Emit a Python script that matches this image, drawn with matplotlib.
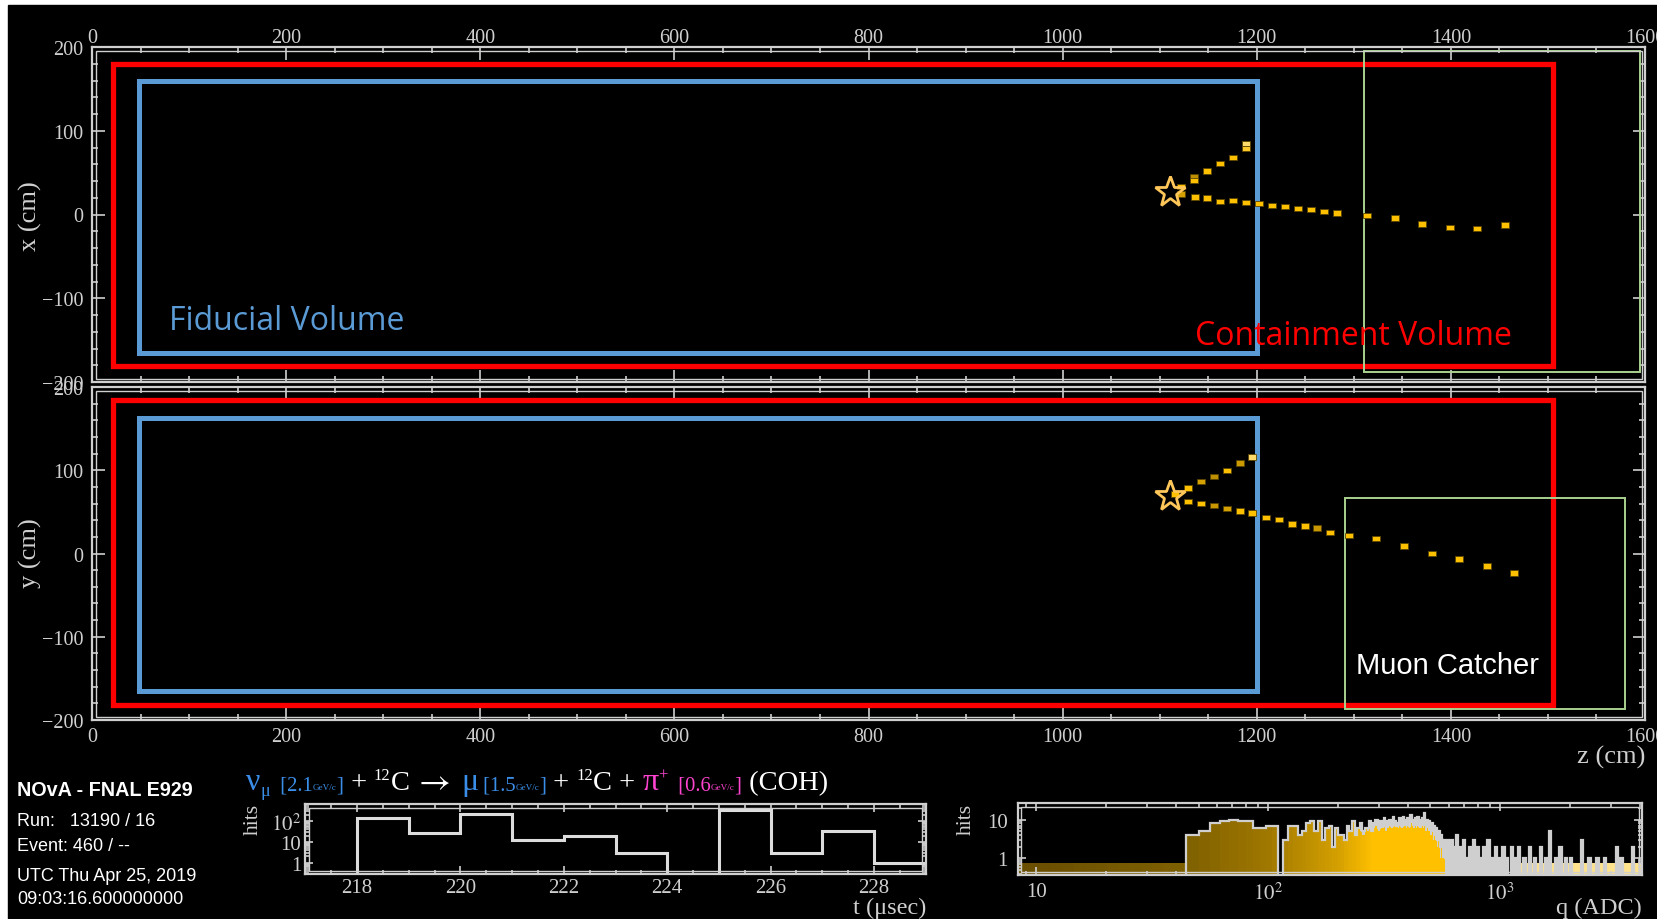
import numpy as np
import matplotlib
matplotlib.use('Agg')
import matplotlib.pyplot as plt
from matplotlib.patches import Rectangle
from matplotlib.colors import LinearSegmentedColormap
from matplotlib.ticker import MultipleLocator, FixedLocator, FixedFormatter, NullFormatter, LogLocator

plt.rcParams['font.family'] = ['Liberation Serif', 'DejaVu Serif']
plt.rcParams['mathtext.fontset'] = 'stix'

# ---- detector volumes (cm) ----
containment_z = (22, 1505)
containment_x = (-181, 180)
containment_y = (-182, 184)
fiducial_z = (48, 1200)
fiducial_x = (-165, 160)
fiducial_y = (-165, 163)
catcher_xz = (1310, 1595, -188, 195)
catcher_yz = (1291, 1579, -187, 67)

# ---- reconstructed vertex ----
vtx_z = 1110.6
vtx_x = 26.5
vtx_y = 69.4

# ---- hits, XZ view ----
xz_pion_z = [1121.7, 1135.7, 1135.7, 1149.1, 1162.5, 1175.6, 1188.9, 1188.9]
xz_pion_x = [33.7, 45.5, 40.5, 51.9, 61.1, 68.3, 85.0, 78.5]
xz_pion_q = [400, 150, 420, 430, 410, 420, 1500, 900]
xz_muon_z = [1121.7, 1136.1, 1149.1, 1162.5, 1175.6, 1188.9, 1202.6, 1216.0, 1229.1, 1242.5,
             1255.9, 1269.3, 1282.7, 1313.3, 1342.5, 1370.6, 1399.1, 1426.9, 1455.5]
xz_muon_x = [24.5, 20.9, 19.7, 15.8, 16.5, 14.1, 12.9, 10.5, 9.3, 6.9,
             6.2, 3.3, 1.8, -1.0, -4.2, -11.3, -15.8, -16.5, -12.5]
xz_muon_q = [200, 420, 420, 420, 420, 420, 420, 420, 420, 420,
             420, 420, 420, 420, 420, 420, 420, 420, 420]

# ---- hits, YZ view ----
yz_pion_z = [1115.8, 1129.5, 1142.9, 1156.0, 1169.4, 1182.8, 1194.8]
yz_pion_y = [71.5, 78.7, 86.2, 92.7, 99.9, 108.7, 115.9]
yz_pion_q = [400, 420, 200, 150, 420, 180, 1300]
yz_muon_z = [1129.5, 1142.9, 1156.0, 1169.4, 1182.8, 1195.2, 1209.3, 1222.6, 1236.0, 1249.4,
             1262.4, 1275.8, 1294.7, 1322.9, 1351.4, 1380.3, 1408.1, 1437.0, 1465.0]
yz_muon_y = [62.2, 59.8, 57.4, 54.3, 51.1, 48.6, 43.5, 41.1, 35.4, 33.0,
             30.6, 25.0, 21.4, 17.8, 9.0, 0.2, -6.6, -15.0, -23.5]
yz_muon_q = [420, 420, 170, 200, 420, 420, 420, 420, 420, 420,
             170, 420, 420, 420, 420, 420, 420, 420, 420]

# ---- timing histogram (1 usec bins) ----
t_edges = [217, 218, 219, 220, 221, 222, 223, 224, 225, 226, 227, 228, 229]
t_hits = [0, 144, 26, 214, 13, 20, 3, 0, 330, 3, 34, 1]

# ---- charge histogram: 6 ADC bins from 44 ADC ----
q_start = 44
q_width = 6
q_hits_all = [4, 5, 8, 9, 10, 9, 9, 6, 6, 7, 7, 0, 3, 7, 7, 4, 5, 8, 9, 5,
              9, 3, 6, 7, 2, 6, 4, 4, 3, 7, 5, 9, 4, 6,
              8, 5, 6, 6, 9, 5, 8, 10, 6, 9, 7, 11, 7, 9, 10, 7, 12, 9, 7, 8,
              11, 7, 12, 10, 8, 11, 7, 13, 10, 8, 11, 9, 12, 7, 10, 11, 9, 15, 8, 10,
              7, 9, 6, 8, 5, 7, 4, 6, 3, 5, 2, 4, 3, 2, 3, 1, 2, 3, 1]
q_hits_slice = [4, 5, 8, 9, 10, 9, 9, 6, 6, 7, 7, 0, 3, 7, 7, 4, 5, 8, 9, 5,
                9, 3, 6, 7, 2, 6, 4, 4, 3, 7, 5, 9, 4, 6,
                5, 4, 6, 5, 6, 5, 6, 7, 5, 6, 6, 7, 5, 6, 7, 6, 8, 7, 7, 6,
                7, 6, 8, 7, 6, 7, 6, 8, 7, 6, 7, 6, 7, 6, 6, 7, 6, 7, 5, 6,
                5, 5, 4, 5, 3, 4, 3, 3, 2, 3, 1, 2, 1, 1, 1, 0, 0, 0, 0]
# isolated high-charge hits
q_spike_adc = [610, 628, 645, 662, 690, 712, 735, 760, 790, 815, 845, 880, 910, 950, 985,
               1020, 1060, 1110, 1150, 1190, 1260, 1330, 1400, 1480, 1560, 1620, 1720,
               1800, 1900, 2000, 2230, 2400, 2600, 2800, 3150, 3300, 3700]
q_spike_hits = [3, 2, 4, 2, 3, 1, 2, 3, 2, 1, 2, 3, 1, 2, 1, 2, 1, 2, 1, 2, 1, 2, 1, 2, 1,
                5, 1, 2, 1, 1, 3, 1, 1, 1, 2, 1, 2]

W, H = 1657, 920
GREY = '#cfcfcf'
BLUE = '#5b9bd5'
NU_BLUE = '#3b8ee8'
PINK = '#ff44d0'

# colour palette used for hit charge (log10 ADC)
stops = [(1.0, '#6b4f00'), (1.65, '#7f6000'), (2.0, '#a07800'), (2.3, '#d4a000'),
         (2.45, '#ffc000'), (2.85, '#ffc000'), (3.1, '#ffd966'), (3.6, '#ffe699')]
adc_cmap = LinearSegmentedColormap.from_list(
    'adc', [((l - 1.0) / 2.6, c) for l, c in stops])


def adc_color(q):
    return adc_cmap((np.log10(np.asarray(q, dtype=float)) - 1.0) / 2.6)


fig = plt.figure(figsize=(W / 100, H / 100), dpi=100, facecolor='white')
fig.add_artist(Rectangle((8 / W, 0), 1, 1 - 6 / H, transform=fig.transFigure,
                         color='black', zorder=-10))


def style_frame(ax, major=9, minor=4.5, size=14.5):
    ax.set_facecolor('black')
    for s in ax.spines.values():
        s.set_color(GREY)
        s.set_linewidth(1.6)
        s.set_zorder(6)
    ax.tick_params(which='both', direction='in', colors=GREY, top=True, bottom=True,
                   left=True, right=True, width=1.2, labelsize=size)
    ax.tick_params(which='major', length=major)
    ax.tick_params(which='minor', length=minor)
    # inner frame line
    bb = ax.get_position()
    dx = 3.5 / (bb.width * W)
    dy = 3.5 / (bb.height * H)
    ax.add_patch(Rectangle((dx, dy), 1 - 2 * dx, 1 - 2 * dy, transform=ax.transAxes,
                           fill=False, ec=GREY, lw=1.0, zorder=6, clip_on=False))


def draw_volumes(ax, cz, cv, fz, fv, mc):
    ax.add_patch(Rectangle((cz[0], cv[0]), cz[1] - cz[0], cv[1] - cv[0], fill=False,
                           ec='#ff0000', lw=3.8, joinstyle='miter', zorder=2))
    ax.add_patch(Rectangle((fz[0], fv[0]), fz[1] - fz[0], fv[1] - fv[0], fill=False,
                           ec=BLUE, lw=3.6, joinstyle='miter', zorder=2))
    ax.add_patch(Rectangle((mc[0], mc[2]), mc[1] - mc[0], mc[3] - mc[2], fill=False,
                           ec='#a9d18e', lw=1.4, zorder=2))


def draw_hits(ax, z, v, q):
    ax.bar(z, 6.2, bottom=np.asarray(v) - 3.1, width=8.5, color=adc_color(q),
           edgecolor='#5a4500', linewidth=0.6, zorder=4)


# ---- XZ view ----
ax1 = fig.add_axes([92 / W, 1 - 383 / H, 1553 / W, 335 / H])
style_frame(ax1)
ax1.set_xlim(0, 1600)
ax1.set_ylim(-200, 200)
ax1.xaxis.set_major_locator(MultipleLocator(200))
ax1.xaxis.set_minor_locator(MultipleLocator(50))
ax1.yaxis.set_major_locator(MultipleLocator(100))
ax1.yaxis.set_minor_locator(MultipleLocator(20))
ax1.tick_params(labeltop=True, labelbottom=False)
ax1.tick_params(axis='x', pad=0)
ax1.tick_params(axis='y', pad=6)
draw_volumes(ax1, containment_z, containment_x, fiducial_z, fiducial_x, catcher_xz)
draw_hits(ax1, xz_pion_z, xz_pion_x, xz_pion_q)
draw_hits(ax1, xz_muon_z, xz_muon_x, xz_muon_q)
ax1.plot([vtx_z], [vtx_x], marker='*', ms=23, mfc='none', mec='#ffc65a', mew=2, zorder=5)
ax1.text(79, -127, 'Fiducial Volume', color=BLUE, fontsize=23, family='Open Sans',
         ha='left', va='center')
ax1.text(1136, -145, 'Containment Volume', color='#ff0000', fontsize=23, family='Open Sans',
         ha='left', va='center')

# ---- YZ view ----
ax2 = fig.add_axes([92 / W, 1 - 721 / H, 1553 / W, 333 / H])
style_frame(ax2)
ax2.set_xlim(0, 1600)
ax2.set_ylim(-200, 200)
ax2.xaxis.set_major_locator(MultipleLocator(200))
ax2.xaxis.set_minor_locator(MultipleLocator(50))
ax2.yaxis.set_major_locator(MultipleLocator(100))
ax2.yaxis.set_minor_locator(MultipleLocator(20))
ax2.tick_params(axis='x', pad=5)
ax2.tick_params(axis='y', pad=6)
draw_volumes(ax2, containment_z, containment_y, fiducial_z, fiducial_y, catcher_yz)
draw_hits(ax2, yz_pion_z, yz_pion_y, yz_pion_q)
draw_hits(ax2, yz_muon_z, yz_muon_y, yz_muon_q)
ax2.plot([vtx_z], [vtx_y], marker='*', ms=23, mfc='none', mec='#ffc65a', mew=2, zorder=5)
ax2.text(1302, -134, 'Muon Catcher', color='white', fontsize=21, family='Liberation Sans',
         ha='left', va='center')

fig.text(30 / W, 1 - 216 / H, 'x (cm)', rotation=90, color=GREY, fontsize=19,
         ha='center', va='center')
fig.text(30 / W, 1 - 553 / H, 'y (cm)', rotation=90, color=GREY, fontsize=19,
         ha='center', va='center')
fig.text(1645 / W, 1 - 757 / H, 'z (cm)', color=GREY, fontsize=19, ha='right', va='center')

# ---- run information ----
info = [('NOvA - FNAL E929', 790, 'bold', 14.2),
        ('Run:   13190 / 16', 822, 'normal', 13),
        ('Event: 460 / --', 846.5, 'normal', 13),
        ('UTC Thu Apr 25, 2019', 877, 'normal', 13),
        ('09:03:16.600000000', 900, 'normal', 13)]
for s, yy, wt, sz in info:
    fig.text(17 / W, 1 - yy / H, s, color='white', fontsize=sz, fontweight=wt,
             family='Liberation Sans', ha='left', va='center')

# ---- interaction summary, laid out piece by piece ----
pieces = [('\u03bd', 23, NU_BLUE, 0), ('\u03bc', 13, NU_BLUE, -6),
          ('  [2.1', 14.8, NU_BLUE, 0), ('GeV/c', 6.6, NU_BLUE, 0), (']', 14.8, NU_BLUE, 0),
          (' + ', 20.5, 'white', 0), ('12', 12, 'white', 10), ('C', 20.5, 'white', 0),
          (' ', 10, 'white', 0), (r'$\rightarrow$', 25, 'white', 0), (' ', 20.5, 'white', 0),
          (' ', 12, 'white', 0),
          ('\u03bc', 23, NU_BLUE, 0), (' [1.5', 14.8, NU_BLUE, 0), ('GeV/c', 6.6, NU_BLUE, 0),
          (']', 14.8, NU_BLUE, 0), (' + ', 20.5, 'white', 0), ('12', 12, 'white', 10),
          ('C + ', 20.5, 'white', 0), ('\u03c0', 23, PINK, 0), ('+', 12, PINK, 10),
          ('  [0.6', 14.8, PINK, 0), ('GeV/c', 6.6, PINK, 0), (']', 14.8, PINK, 0),
          (' (COH)', 20.5, 'white', 0)]
renderer = fig.canvas.get_renderer()
xpos = 246
base = 790
for s, sz, col, dy in pieces:
    t = fig.text(xpos / W, 1 - (base - dy) / H, s, fontsize=sz, color=col,
                 ha='left', va='baseline')
    xpos = t.get_window_extent(renderer).x1

# ---- timing histogram ----
floor = 0.01
ax3 = fig.add_axes([305.4 / W, 1 - 875 / H, 620.3 / W, 70 / H])
style_frame(ax3, major=6, minor=3, size=15)
t_vals = np.array(t_hits, dtype=float)
ax3.stairs(np.where(t_vals > 0, t_vals, floor), t_edges, baseline=floor,
           color='#dcdcdc', lw=2.2, zorder=3)
ax3.set_yscale('log')
ax3.set_xlim(217, 229)
ax3.set_ylim(0.28, 680)
ax3.xaxis.set_major_locator(MultipleLocator(2))
ax3.xaxis.set_minor_locator(MultipleLocator(0.5))
ax3.yaxis.set_major_locator(FixedLocator([1, 10, 100]))
ax3.yaxis.set_major_formatter(FixedFormatter(['1', '10', '$10^2$']))
ax3.yaxis.set_minor_locator(LogLocator(subs=np.arange(2, 10)))
ax3.yaxis.set_minor_formatter(NullFormatter())
ax3.tick_params(axis='y', pad=3)
ax3.tick_params(axis='x', pad=3)
fig.text(253 / W, 1 - 819 / H, 'hits', rotation=90, color=GREY, fontsize=15.5,
         ha='center', va='center')
fig.text(926 / W, 1 - 908 / H, 't (\u03bcsec)', color=GREY, fontsize=17.5,
         ha='right', va='center')

# ---- charge histogram ----
ax4 = fig.add_axes([1017.7 / W, 1 - 876 / H, 624.5 / W, 72 / H])
style_frame(ax4, major=6, minor=3, size=15)
ax4.set_xscale('log')
ax4.set_yscale('log')
ax4.set_xlim(8.3, 4100)
ax4.set_ylim(0.37, 27)

low_edges = q_start + q_width * np.arange(len(q_hits_all) + 1)
edges = list(low_edges)
counts = list(q_hits_all)
for q, n in zip(q_spike_adc, q_spike_hits):
    edges.append(q)
    counts.append(0)
    edges.append(q * 1.025)
    counts.append(n)
edges.append(4100)
counts.append(0)
edges = np.array(edges, dtype=float)
counts = np.array(counts, dtype=float)

# palette band under- and overflow
band_lo = np.geomspace(8.3, q_start, 16)
ax4.bar(band_lo[:-1], 0.74 - floor, width=np.diff(band_lo), bottom=floor, align='edge',
        color=adc_color(np.sqrt(band_lo[:-1] * band_lo[1:])), lw=0, zorder=1)
ax4.bar([1230], 0.74 - floor, width=[4100 - 1230], bottom=floor, align='edge',
        color='#ffe38c', lw=0, zorder=1)

ax4.stairs(np.where(counts > 0, counts, floor), edges, baseline=floor, fill=True,
           color=GREY, zorder=2)
slice_vals = np.array(q_hits_slice, dtype=float)
centers = 0.5 * (low_edges[:-1] + low_edges[1:])
keep = slice_vals > 0
ax4.bar(low_edges[:-1][keep], slice_vals[keep] - floor, width=q_width, bottom=floor,
        align='edge', color=adc_color(centers[keep]), lw=0, zorder=3)
ax4.stairs(np.where(counts > 0, counts, floor), edges, baseline=floor,
           color=GREY, lw=1.6, zorder=4)

ax4.xaxis.set_major_locator(FixedLocator([10, 100, 1000]))
ax4.xaxis.set_major_formatter(FixedFormatter(['10', '$10^2$', '$10^3$']))
ax4.xaxis.set_minor_locator(LogLocator(subs=np.arange(2, 10)))
ax4.xaxis.set_minor_formatter(NullFormatter())
ax4.yaxis.set_major_locator(FixedLocator([1, 10]))
ax4.yaxis.set_major_formatter(FixedFormatter(['1', '10']))
ax4.yaxis.set_minor_locator(LogLocator(subs=np.arange(2, 10)))
ax4.yaxis.set_minor_formatter(NullFormatter())
ax4.tick_params(axis='y', pad=7)
ax4.tick_params(axis='x', pad=5)
fig.text(966 / W, 1 - 819 / H, 'hits', rotation=90, color=GREY, fontsize=15.5,
         ha='center', va='center')
fig.text(1642 / W, 1 - 908 / H, 'q (ADC)', color=GREY, fontsize=17.5,
         ha='right', va='center')

fig.savefig('out.png', dpi=100, facecolor=fig.get_facecolor())
